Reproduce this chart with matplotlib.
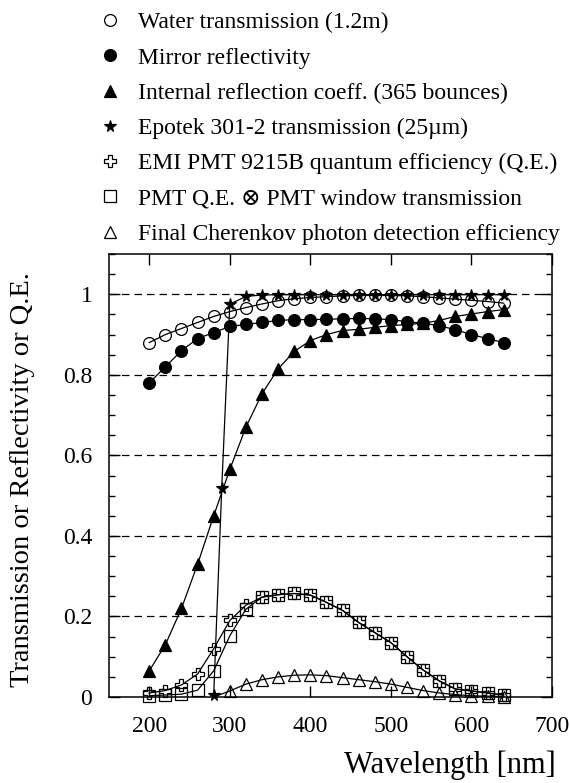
import matplotlib
matplotlib.use("Agg")
import matplotlib.pyplot as plt
from matplotlib.lines import Line2D

plt.rcParams['font.family'] = ['Liberation Serif', 'DejaVu Serif']

# wavelengths [nm]
wl = [200, 220, 240, 260, 280, 300, 320, 340, 360, 380, 400, 420,
      440, 460, 480, 500, 520, 540, 560, 580, 600, 620, 640]

water = [0.88, 0.90, 0.915, 0.93, 0.945, 0.957, 0.967, 0.976, 0.984, 0.989, 0.992, 0.994,
         0.996, 0.997, 0.997, 0.997, 0.996, 0.994, 0.991, 0.988, 0.985, 0.982, 0.978]
mirror = [0.78, 0.82, 0.86, 0.89, 0.905, 0.92, 0.925, 0.93, 0.935, 0.937, 0.937, 0.938,
          0.939, 0.94, 0.939, 0.937, 0.932, 0.928, 0.922, 0.912, 0.90, 0.89, 0.88]
internal = [0.065, 0.13, 0.22, 0.33, 0.45, 0.565, 0.67, 0.753, 0.815, 0.858, 0.885, 0.90,
            0.91, 0.913, 0.918, 0.922, 0.925, 0.928, 0.935, 0.945, 0.951, 0.957, 0.962]

wl_epotek = [280, 290, 300, 320, 340, 360, 380, 400, 420, 440, 460, 480,
             500, 520, 540, 560, 580, 600, 620, 640]
epotek = [0.005, 0.52, 0.975, 0.995, 0.998, 0.999, 0.999, 0.999, 0.999, 0.999, 0.999, 0.999,
          0.999, 0.999, 0.999, 0.999, 0.999, 0.999, 0.999, 0.999]

qe = [0.01, 0.016, 0.03, 0.057, 0.12, 0.19, 0.228, 0.248, 0.254, 0.257, 0.253, 0.235,
      0.215, 0.185, 0.16, 0.135, 0.10, 0.067, 0.04, 0.02, 0.015, 0.01, 0.005]
qe_window = [0.003, 0.005, 0.007, 0.017, 0.065, 0.152, 0.218, 0.248, 0.254, 0.257, 0.253, 0.235,
             0.215, 0.185, 0.16, 0.135, 0.10, 0.067, 0.04, 0.02, 0.015, 0.01, 0.005]

wl_final = [280, 300, 320, 340, 360, 380, 400, 420, 440, 460, 480,
            500, 520, 540, 560, 580, 600, 620, 640]
final = [0.0, 0.015, 0.032, 0.043, 0.05, 0.054, 0.055, 0.053, 0.048, 0.043, 0.038,
         0.032, 0.024, 0.016, 0.01, 0.006, 0.003, 0.002, 0.001]

labels = ["Water transmission (1.2m)",
          "Mirror reflectivity",
          "Internal reflection coeff. (365 bounces)",
          "Epotek 301-2 transmission (25\u00b5m)",
          "EMI PMT 9215B quantum efficiency (Q.E.)",
          "PMT Q.E. \u2297 PMT window transmission",
          "Final Cherenkov photon detection efficiency"]

fig = plt.figure(figsize=(5.7, 7.83), dpi=100)
ax = fig.add_axes([109 / 570, 1 - 697 / 783, (552 - 109) / 570, (697 - 254) / 783])

lw = 0.9
ms = 8.5
styles = [
    dict(marker='o', mfc='none', ms=ms),
    dict(marker='o', mfc='black', ms=ms),
    dict(marker='^', mfc='black', ms=ms + 0.5),
    dict(marker='*', mfc='black', ms=ms),
    dict(marker='P', mfc='none', ms=ms - 0.5),
    dict(marker='s', mfc='none', ms=ms),
    dict(marker='^', mfc='none', ms=ms + 0.5),
]
series = [(wl, water), (wl, mirror), (wl, internal), (wl_epotek, epotek),
          (wl, qe), (wl, qe_window), (wl_final, final)]
# the first point of the final efficiency curve has no marker in the figure
every = [None, None, None, None, None, None, list(range(1, len(wl_final)))]

for i, (x, y) in enumerate(series):
    ax.plot(x, y, color='black', lw=lw, mec='black', mew=0.9, clip_on=False, zorder=3,
            markevery=every[i], **styles[i])

ax.set_xlim(150, 700)
ax.set_ylim(0, 1.1)
ax.set_xticks([200, 300, 400, 500, 600, 700])
ax.set_yticks([0, 0.2, 0.4, 0.6, 0.8, 1.0])
ax.set_yticklabels(['0', '0.2', '0.4', '0.6', '0.8', '1'])
ax.set_yticks([i * 0.05 for i in range(23)], minor=True)
ax.tick_params(which='both', direction='in', top=True, right=True, labelsize=17)
ax.tick_params(which='major', length=8, width=1.0)
ax.tick_params(which='minor', length=4.5, width=1.0)
ax.tick_params(axis='x', which='minor', top=False, bottom=False)
ax.tick_params(axis='x', pad=14)
ax.tick_params(axis='y', pad=12)
for sp in ax.spines.values():
    sp.set_linewidth(1.1)

for yv in [0.2, 0.4, 0.6, 0.8, 1.0]:
    ax.axhline(yv, color='black', lw=0.9, ls=(0, (6, 4)), zorder=1)

ax.set_ylabel("Transmission or Reflectivity or Q.E.", fontsize=20.5)
ax.yaxis.set_label_coords(-0.168, 0.49)
fig.text(556 / 570, 1 - 765 / 783, "Wavelength [nm]", fontsize=22, ha='right', va='center')

handles = [Line2D([], [], color='black', ls='none', mec='black', mew=0.9, **st) for st in styles]
fig.legend(handles, labels, loc='upper left', bbox_to_anchor=(99 / 570, 1 - 12 / 783),
           frameon=False, fontsize=17, handlelength=0.9, handletextpad=0.75,
           labelspacing=0.58, borderpad=0, borderaxespad=0)

fig.savefig("out.png", dpi=100)
